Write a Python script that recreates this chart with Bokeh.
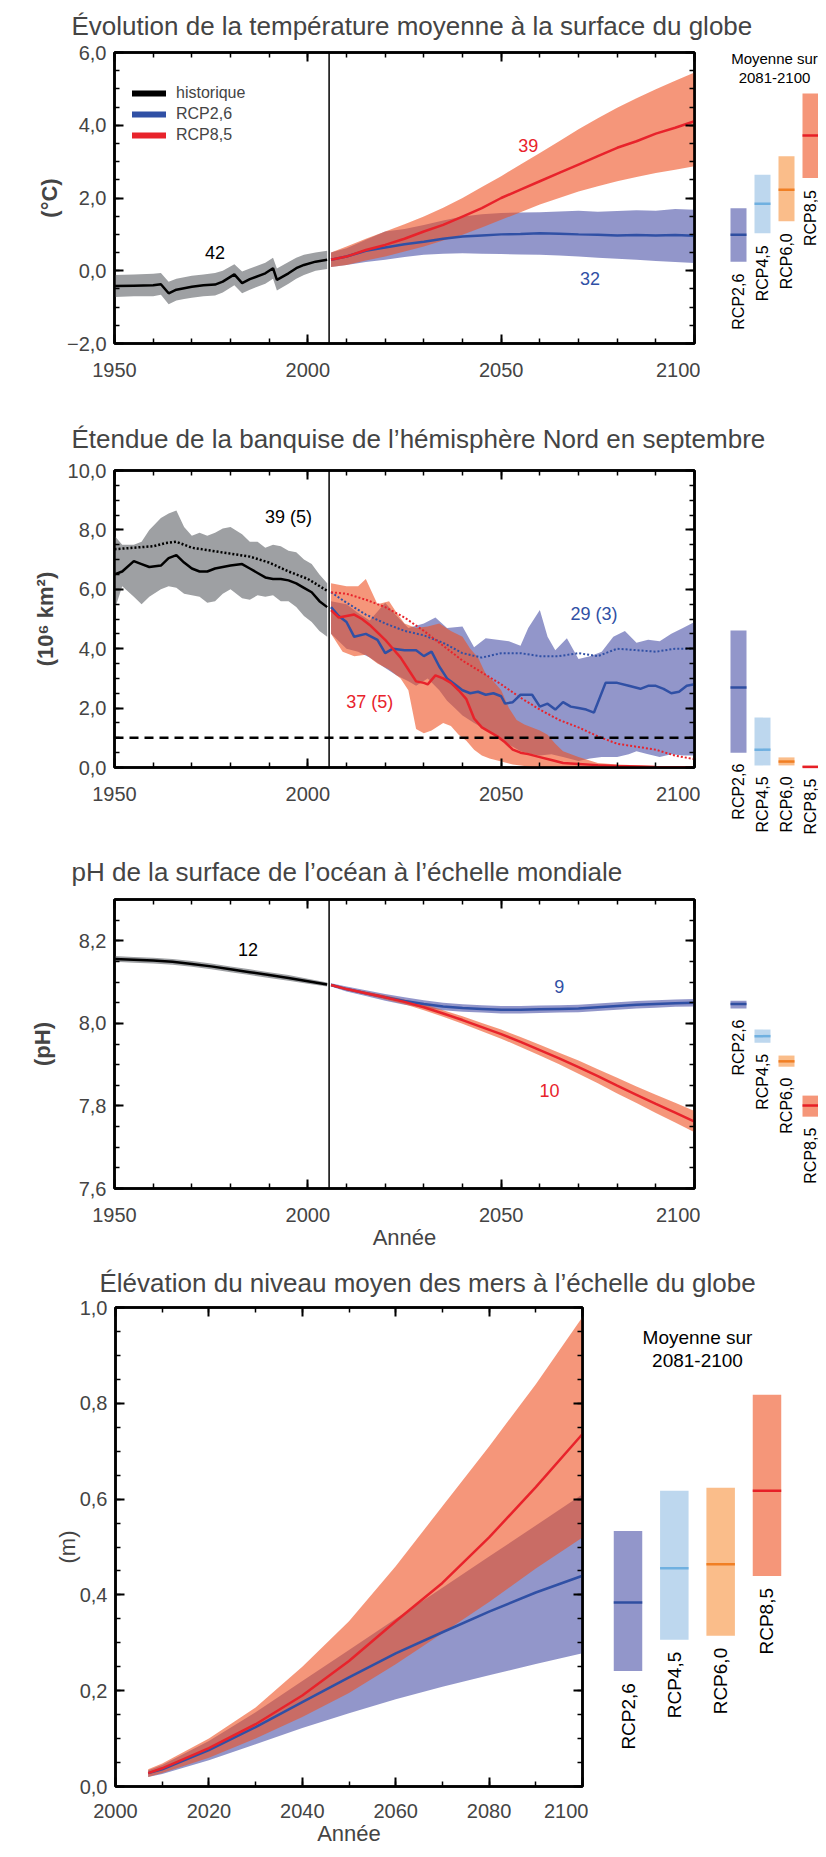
import math
from bokeh.plotting import figure
from bokeh.models import (Range1d, LinearAxis, FixedTicker, CustomJSTickFormatter,
                          Span, Legend, LegendItem, Spacer)
from bokeh.layouts import column, row
from bokeh.embed import file_html
from bokeh.resources import INLINE
from bokeh.core.properties import value

FONT = "'Liberation Sans', Arial, Helvetica, sans-serif"
NAN = float("nan")

# ============================ DATA ============================
titles = [
    "\u00c9volution de la temp\u00e9rature moyenne \u00e0 la surface du globe",
    "\u00c9tendue de la banquise de l\u2019h\u00e9misph\u00e8re Nord en septembre",
    "pH de la surface de l\u2019oc\u00e9an \u00e0 l\u2019\u00e9chelle mondiale",
    "\u00c9l\u00e9vation du niveau moyen des mers \u00e0 l\u2019\u00e9chelle du globe",
]
ylabels = ["(\u00b0C)", "(10\u2076 km\u00b2)", "(pH)", "(m)"]
xlabel = "Ann\u00e9e"
side_title = ["Moyenne sur", "2081-2100"]
scenarios = ["RCP2,6", "RCP4,5", "RCP6,0", "RCP8,5"]
legend_labels = ["historique", "RCP2,6", "RCP8,5"]
split_year = 2005.5

# --- Panel 1 : temperature ---
t_hist_years = [1950, 1955, 1960, 1962, 1964, 1966, 1968, 1970, 1973, 1976, 1978, 1981,
                1983, 1985, 1989, 1991, 1992, 1995, 1997, 1999, 2002, 2005]
t_hist_mean = [-0.42, -0.41, -0.40, -0.37, -0.62, -0.52, -0.48, -0.44, -0.40, -0.38, -0.30, -0.10,
               -0.34, -0.23, -0.07, 0.07, -0.25, -0.07, 0.07, 0.16, 0.25, 0.30]
t_hist_hi = [-0.12, -0.10, -0.08, -0.06, -0.30, -0.22, -0.18, -0.14, -0.10, -0.06, 0.00, 0.18,
             -0.02, 0.06, 0.22, 0.36, 0.06, 0.24, 0.36, 0.44, 0.50, 0.55]
t_hist_lo = [-0.72, -0.70, -0.70, -0.66, -0.92, -0.82, -0.78, -0.74, -0.70, -0.68, -0.60, -0.40,
             -0.62, -0.52, -0.36, -0.22, -0.54, -0.36, -0.22, -0.12, 0.00, 0.05]
t_proj_years = [2006, 2010, 2015, 2020, 2025, 2030, 2035, 2040, 2045, 2050,
                2055, 2060, 2065, 2070, 2075, 2080, 2085, 2090, 2095, 2100]
t26_mean = [0.30, 0.39, 0.55, 0.64, 0.73, 0.80, 0.88, 0.94, 0.97, 1.00,
            1.01, 1.03, 1.02, 1.00, 0.99, 0.97, 0.98, 0.97, 0.98, 0.96]
t26_hi = [0.50, 0.62, 0.85, 1.08, 1.15, 1.26, 1.38, 1.49, 1.55, 1.59,
          1.60, 1.61, 1.63, 1.65, 1.62, 1.64, 1.66, 1.65, 1.70, 1.68]
t26_lo = [0.10, 0.16, 0.24, 0.30, 0.38, 0.44, 0.47, 0.48, 0.47, 0.46,
          0.45, 0.44, 0.42, 0.39, 0.36, 0.33, 0.30, 0.27, 0.24, 0.21]
t85_mean = [0.30, 0.39, 0.57, 0.71, 0.88, 1.08, 1.26, 1.49, 1.72, 2.00,
            2.23, 2.46, 2.69, 2.92, 3.15, 3.38, 3.56, 3.77, 3.93, 4.11]
t85_hi = [0.50, 0.67, 0.88, 1.08, 1.28, 1.49, 1.73, 2.00, 2.30, 2.60,
          2.92, 3.24, 3.56, 3.89, 4.19, 4.48, 4.74, 4.99, 5.22, 5.45]
t85_lo = [0.10, 0.16, 0.28, 0.39, 0.53, 0.67, 0.83, 0.99, 1.19, 1.40,
          1.61, 1.82, 2.00, 2.18, 2.32, 2.46, 2.58, 2.69, 2.78, 2.87]
t_bar_lo = [0.25, 1.03, 1.36, 2.55]
t_bar_hi = [1.72, 2.64, 3.15, 4.87]
t_bar_mean = [0.99, 1.84, 2.23, 3.72]
t_ann_text = ["42", "39", "32"]
t_ann_x = [1976, 2057, 2073]
t_ann_y = [0.5, 3.45, -0.2]

# --- Panel 2 : sea ice ---
i_hist_years = [1950, 1952, 1955, 1957, 1959, 1962, 1964, 1966, 1968, 1970, 1972, 1974, 1976, 1978,
                1980, 1983, 1985, 1987, 1989, 1991, 1993, 1995, 1997, 1999, 2001, 2003, 2005]
i_hist_mean = [6.5, 6.6, 6.95, 6.85, 6.75, 6.8, 7.05, 7.15, 6.9, 6.7, 6.6, 6.6, 6.7, 6.75,
               6.8, 6.85, 6.7, 6.55, 6.4, 6.35, 6.35, 6.3, 6.2, 6.05, 5.9, 5.6, 5.4]
i_hist_hi = [7.8, 7.5, 7.5, 7.6, 8.0, 8.4, 8.55, 8.65, 8.1, 7.8, 7.9, 7.8, 7.9, 8.05,
             8.1, 7.85, 7.6, 7.6, 7.4, 7.5, 7.45, 7.3, 7.25, 7.0, 6.85, 6.5, 6.2]
i_hist_lo = [5.3, 6.1, 5.75, 5.5, 5.75, 6.0, 6.1, 6.05, 5.85, 5.8, 5.75, 5.55, 5.6, 5.85,
             6.0, 5.7, 5.65, 5.8, 5.75, 5.8, 5.6, 5.6, 5.4, 5.1, 4.9, 4.6, 4.4]
i_obs_years = [1950, 1955, 1960, 1963, 1966, 1970, 1975, 1980, 1985, 1990, 1995, 2000, 2005]
i_obs_dotted = [7.35, 7.4, 7.45, 7.55, 7.6, 7.4, 7.3, 7.2, 7.1, 6.9, 6.6, 6.35, 5.95]
i26_years = [2006, 2008, 2010, 2012, 2015, 2018, 2020, 2022, 2025, 2028, 2030, 2032, 2034, 2036,
             2038, 2040, 2042, 2044, 2046, 2048, 2050, 2051, 2053, 2055, 2058, 2060, 2062, 2064,
             2066, 2068, 2070, 2072, 2074, 2077, 2080, 2083, 2086, 2088, 2090, 2092, 2094, 2096,
             2098, 2100]
i26_mean = [5.4, 5.1, 4.9, 4.4, 4.5, 4.3, 3.85, 4.0, 3.95, 3.95, 3.75, 3.9, 3.4, 3.0,
            2.8, 2.6, 2.5, 2.55, 2.45, 2.5, 2.4, 2.15, 2.2, 2.45, 2.45, 2.05, 2.15, 1.95,
            2.2, 2.05, 2.0, 1.95, 1.85, 2.85, 2.85, 2.75, 2.65, 2.75, 2.75, 2.65, 2.5, 2.55,
            2.75, 2.8]
i_dot_years = [2006, 2010, 2015, 2020, 2025, 2030, 2035, 2040, 2045, 2050,
               2055, 2060, 2065, 2070, 2075, 2080, 2085, 2090, 2095, 2100]
i26_dotted = [5.9, 5.55, 5.15, 4.85, 4.6, 4.45, 4.2, 3.85, 3.7, 3.85,
              3.85, 3.75, 3.75, 3.85, 3.75, 4.0, 3.95, 3.9, 4.0, 4.0]
i85_dotted = [5.9, 5.85, 5.65, 5.4, 5.05, 4.6, 4.1, 3.6, 3.2, 2.8,
              2.35, 1.95, 1.6, 1.35, 1.05, 0.8, 0.7, 0.6, 0.4, 0.28]
i26_hi_years = [2006, 2010, 2013, 2016, 2020, 2023, 2026, 2030, 2033, 2036, 2040, 2043, 2046, 2049,
                2052, 2055, 2057, 2060, 2062, 2064, 2067, 2070, 2073, 2076, 2079, 2082, 2085, 2088,
                2091, 2094, 2097, 2100]
i26_hi = [5.6, 5.5, 5.2, 4.95, 5.55, 5.1, 4.7, 4.85, 5.05, 4.7, 4.75, 4.05, 4.35, 4.3,
          4.25, 4.1, 4.7, 5.3, 4.4, 3.95, 4.35, 3.65, 3.75, 3.9, 4.4, 4.6, 4.2, 4.3,
          4.25, 4.5, 4.7, 4.9]
i26_lo_years = [2006, 2010, 2013, 2016, 2020, 2023, 2026, 2028, 2031, 2034, 2036, 2038, 2040, 2043,
                2045, 2048, 2050, 2053, 2055, 2058, 2060, 2063, 2066, 2070, 2073, 2076, 2080, 2083,
                2085, 2088, 2091, 2094, 2097, 2100]
i26_lo = [4.5, 4.0, 3.9, 3.7, 3.35, 3.1, 2.9, 2.75, 3.0, 2.6, 2.25, 2.0, 1.75, 1.5,
          1.35, 1.1, 0.9, 0.7, 0.55, 0.45, 0.4, 0.45, 0.35, 0.22, 0.3, 0.35, 0.35, 0.45,
          0.55, 0.45, 0.35, 0.45, 0.4, 0.4]
i85_years = [2006, 2008, 2010, 2012, 2014, 2016, 2018, 2020, 2022, 2024, 2026, 2028, 2030, 2031,
             2033, 2035, 2037, 2039, 2041, 2043, 2045, 2047, 2049, 2051, 2053, 2055, 2057, 2060,
             2063, 2066, 2070, 2075, 2080, 2090, 2100]
i85_mean = [5.3, 5.05, 5.1, 5.15, 5.0, 4.8, 4.55, 4.3, 4.0, 3.7, 3.3, 2.9, 2.85, 2.8,
            3.1, 3.0, 2.85, 2.6, 2.3, 1.65, 1.35, 1.2, 1.05, 0.85, 0.6, 0.5, 0.45, 0.35,
            0.25, 0.15, 0.12, 0.08, 0.05, 0.02, 0.01]
i85_hi_years = [2006, 2010, 2013, 2015, 2018, 2021, 2023, 2025, 2028, 2031, 2034, 2037, 2040, 2042,
                2044, 2046, 2048, 2050, 2052, 2054, 2056, 2058, 2060, 2062, 2064, 2066, 2070, 2075,
                2080, 2090, 2100]
i85_hi = [6.2, 6.1, 6.1, 6.35, 5.5, 5.6, 5.2, 4.85, 4.7, 4.75, 4.85, 4.6, 4.4, 4.0,
          3.7, 3.15, 2.9, 2.6, 2.0, 1.6, 1.45, 1.35, 1.25, 1.1, 0.8, 0.55, 0.35, 0.15,
          0.1, 0.05, 0.03]
i85_lo_years = [2006, 2009, 2012, 2015, 2018, 2021, 2024, 2026, 2028, 2030, 2032, 2035, 2037, 2039,
                2041, 2043, 2045, 2047, 2050, 2053, 2056, 2060, 2100]
i85_lo = [4.5, 3.9, 3.75, 3.8, 3.5, 3.3, 3.0, 2.6, 1.3, 1.15, 1.25, 1.5, 1.4, 1.1,
          0.9, 0.6, 0.4, 0.3, 0.2, 0.1, 0.05, 0.0, 0.0]
ice_free_level = 1.0
i_bar_lo = [0.50, 0.07, 0.07, 0.00]
i_bar_hi = [4.61, 1.68, 0.34, 0.06]
i_bar_mean = [2.69, 0.60, 0.20, 0.02]
i_ann_text = ["39 (5)", "29 (3)", "37 (5)"]
i_ann_x = [1995, 2074, 2016]
i_ann_y = [8.45, 5.17, 2.2]

# --- Panel 3 : ocean pH ---
ph_hist_years = [1950, 1955, 1960, 1965, 1970, 1975, 1980, 1985, 1990, 1995, 2000, 2005]
ph_hist = [8.156, 8.154, 8.152, 8.149, 8.144, 8.138, 8.131, 8.124, 8.117, 8.110, 8.102, 8.094]
ph_hist_hi = [8.163, 8.161, 8.159, 8.156, 8.151, 8.145, 8.138, 8.131, 8.124, 8.117, 8.108, 8.099]
ph_hist_lo = [8.149, 8.147, 8.145, 8.142, 8.137, 8.131, 8.124, 8.117, 8.110, 8.103, 8.096, 8.089]
ph_years = [2006, 2010, 2015, 2020, 2025, 2030, 2035, 2040, 2045, 2050,
            2055, 2060, 2065, 2070, 2075, 2080, 2085, 2090, 2095, 2100]
ph26 = [8.093, 8.083, 8.073, 8.063, 8.054, 8.047, 8.041, 8.037, 8.035, 8.033,
        8.033, 8.034, 8.035, 8.036, 8.039, 8.042, 8.045, 8.047, 8.049, 8.050]
ph26_hi = [8.097, 8.089, 8.080, 8.071, 8.063, 8.056, 8.050, 8.046, 8.044, 8.042,
           8.042, 8.043, 8.044, 8.045, 8.048, 8.051, 8.054, 8.056, 8.058, 8.059]
ph26_lo = [8.089, 8.077, 8.066, 8.055, 8.045, 8.038, 8.032, 8.028, 8.026, 8.024,
           8.024, 8.025, 8.026, 8.027, 8.030, 8.033, 8.036, 8.038, 8.040, 8.041]
ph85 = [8.093, 8.083, 8.073, 8.063, 8.052, 8.039, 8.024, 8.008, 7.991, 7.974,
        7.955, 7.935, 7.915, 7.894, 7.872, 7.849, 7.827, 7.805, 7.784, 7.762]
ph85_hi = [8.096, 8.086, 8.077, 8.068, 8.058, 8.046, 8.032, 8.017, 8.001, 7.985,
           7.967, 7.948, 7.929, 7.910, 7.889, 7.868, 7.847, 7.827, 7.808, 7.788]
ph85_lo = [8.090, 8.080, 8.069, 8.058, 8.046, 8.032, 8.016, 7.999, 7.981, 7.963,
           7.943, 7.922, 7.901, 7.878, 7.855, 7.830, 7.807, 7.783, 7.760, 7.736]
ph_bar_lo = [8.036, 7.953, 7.895, 7.774]
ph_bar_hi = [8.055, 7.985, 7.922, 7.825]
ph_bar_mean = [8.047, 7.969, 7.908, 7.801]
ph_ann_text = ["12", "9", "10"]
ph_ann_x = [1984.5, 2065, 2062.5]
ph_ann_y = [8.18, 8.09, 7.837]

# --- Panel 4 : sea level ---
sl_years = [2007, 2010, 2020, 2030, 2040, 2050, 2060, 2070, 2080, 2090, 2100]
sl26 = [0.028, 0.036, 0.076, 0.124, 0.176, 0.228, 0.278, 0.322, 0.365, 0.405, 0.440]
sl26_hi = [0.034, 0.045, 0.095, 0.155, 0.220, 0.285, 0.350, 0.415, 0.480, 0.545, 0.610]
sl26_lo = [0.020, 0.026, 0.055, 0.088, 0.122, 0.153, 0.182, 0.208, 0.232, 0.256, 0.278]
sl85 = [0.028, 0.038, 0.080, 0.130, 0.190, 0.262, 0.345, 0.425, 0.520, 0.625, 0.736]
sl85_hi = [0.036, 0.048, 0.100, 0.165, 0.250, 0.345, 0.460, 0.585, 0.710, 0.840, 0.980]
sl85_lo = [0.020, 0.028, 0.060, 0.100, 0.145, 0.195, 0.255, 0.320, 0.385, 0.455, 0.520]
sl_bar_lo = [0.258, 0.322, 0.330, 0.452]
sl_bar_hi = [0.544, 0.626, 0.632, 0.822]
sl_bar_mean = [0.398, 0.468, 0.476, 0.626]

# ============================ STYLE ============================
C_HIST = "black"
C_GRAY = "#9ea0a3"
C26 = "#3050a5"
C85 = "#e8232b"
C26_BAND = "#4950a7"
C85_BAND = "#ee5021"
BAND_ALPHA = 0.6
bar_fill = ["#9296ca", "#bdd7ee", "#fabd8a", "#f59679"]
bar_mean_color = ["#2f4ea0", "#6fb0e0", "#f07f24", "#e61f27"]

YFMT = "return (tick < 0 ? '\u2212' : '') + Math.abs(tick).toFixed(1).replace('.', ',');"


def style_axis(ax, size="20px"):
    ax.axis_line_width = 2.5
    ax.major_tick_in = 9
    ax.major_tick_out = 0
    ax.minor_tick_in = 5
    ax.minor_tick_out = 0
    ax.major_tick_line_width = 2
    ax.minor_tick_line_width = 1.5
    ax.major_label_text_font = FONT
    ax.major_label_text_font_size = size
    ax.axis_label_text_font = FONT
    ax.axis_label_text_font_style = "normal"


def main_fig(left, fw, right, top, fh, bottom, xr, yr, xt, xm, yt, ym, ylab, ylab_standoff,
             ylab_style="bold", xlab=None):
    p = figure(width=left + fw + right, height=top + fh + bottom,
               x_range=Range1d(*xr), y_range=Range1d(*yr),
               output_backend="svg", toolbar_location=None, frame_align=False,
               min_border_left=left, min_border_right=right,
               min_border_top=top, min_border_bottom=bottom)
    p.grid.visible = False
    p.outline_line_color = "black"
    p.outline_line_width = 2.5
    p.xaxis.ticker = FixedTicker(ticks=xt, minor_ticks=xm)
    p.yaxis.ticker = FixedTicker(ticks=yt, minor_ticks=ym)
    p.yaxis.formatter = CustomJSTickFormatter(code=YFMT)
    ax_top = LinearAxis(ticker=FixedTicker(ticks=xt, minor_ticks=xm))
    ax_right = LinearAxis(ticker=FixedTicker(ticks=yt, minor_ticks=ym))
    p.add_layout(ax_top, "above")
    p.add_layout(ax_right, "right")
    for ax in [p.below[0], p.left[0], ax_top, ax_right]:
        style_axis(ax)
    for ax in [ax_top, ax_right]:
        ax.major_label_text_font_size = "0px"
        ax.major_label_text_color = None
        ax.major_label_standoff = 0
    p.below[0].major_label_standoff = 19
    p.left[0].major_label_standoff = 8
    p.left[0].axis_label = ylab
    p.left[0].axis_label_text_font_size = "22px"
    p.left[0].axis_label_text_font_style = ylab_style
    p.left[0].axis_label_standoff = ylab_standoff
    if xlab:
        p.below[0].axis_label = xlab
        p.below[0].axis_label_text_font_size = "22px"
        p.below[0].axis_label_standoff = 0
    return p


def band(p, xs_hi, hi, xs_lo, lo, color, alpha):
    p.patch(x=list(xs_hi) + list(reversed(xs_lo)), y=list(hi) + list(reversed(lo)),
            fill_color=color, fill_alpha=alpha, line_color=None)


def annotate(p, xs, ys, texts, colors):
    p.text(x=xs, y=ys, text=texts, text_color=colors, text_font=value(FONT),
           text_font_size="18px", text_align="center", text_baseline="middle")


def side_fig(width, height, yr, first_center, unit, bar_w, lo, hi, mean, lab_size, gap,
             head=None, head_size="15px", head_offsets=(0, 0)):
    s = figure(width=width, height=height,
               x_range=Range1d(-first_center / unit, (width - first_center) / unit),
               y_range=Range1d(*yr), output_backend="svg", toolbar_location=None,
               frame_align=False, min_border=0, x_axis_location=None, y_axis_location=None)
    s.grid.visible = False
    s.outline_line_color = None
    idx = list(range(len(scenarios)))
    s.vbar(x=idx, bottom=lo, top=hi, width=bar_w / unit, fill_color=bar_fill, line_color=None)
    s.rect(x=idx, y=mean, width=bar_w / unit, height=2.5, height_units="screen",
           fill_color=bar_mean_color, line_color=None)
    s.text(x=idx, y=lo, text=scenarios, angle=math.pi / 2, text_align="right",
           text_baseline="middle", y_offset=gap, text_font=value(FONT),
           text_font_size=lab_size, text_color="black")
    if head:
        for txt, off in zip(head, head_offsets):
            s.text(x=[1.5], y=[yr[1]], text=[txt], y_offset=off, text_align="center",
                   text_baseline="middle", text_font=value(FONT), text_font_size=head_size,
                   text_color="black")
    return s


def title_fig(text, height, offset, size="26px"):
    t = figure(width=818, height=height, x_range=Range1d(0, 1), y_range=Range1d(0, 1),
               output_backend="svg", toolbar_location=None, frame_align=False, min_border=0,
               x_axis_location=None, y_axis_location=None, title=text)
    t.grid.visible = False
    t.outline_line_color = None
    t.title.text_font = FONT
    t.title.text_font_size = size
    t.title.text_font_style = "normal"
    t.title.offset = offset
    t.title.standoff = 0
    return t


def side_range(yr, top, fh, bottom):
    scale = fh / (yr[1] - yr[0])
    return (yr[0] - bottom / scale, yr[1] + top / scale)


# ============================ LAYOUT ============================
PAGE_W = 818
LEFT, FW, RIGHT = 114, 580, 6
SIDE_W = PAGE_W - (LEFT + FW + RIGHT)
years_major = [1950, 2000, 2050, 2100]
years_minor = list(range(1950, 2101, 10))

# ---- Panel 1
yr1 = (-2, 6)
top1, fh1, bot1 = 12, 291, 78
p1 = main_fig(LEFT, FW, RIGHT, top1, fh1, bot1, (1950, 2100), yr1, years_major, years_minor,
              [-2, 0, 2, 4, 6], [-2 + 0.5 * k for k in range(17)], ylabels[0], 2)
band(p1, t_hist_years, t_hist_hi, t_hist_years, t_hist_lo, C_GRAY, 1.0)
band(p1, t_proj_years, t26_hi, t_proj_years, t26_lo, C26_BAND, BAND_ALPHA)
band(p1, t_proj_years, t85_hi, t_proj_years, t85_lo, C85_BAND, BAND_ALPHA)
p1.line(t_hist_years, t_hist_mean, line_color=C_HIST, line_width=2.5)
p1.line(t_proj_years, t26_mean, line_color=C26, line_width=2.5)
p1.line(t_proj_years, t85_mean, line_color=C85, line_width=2.5)
p1.add_layout(Span(location=split_year, dimension="height", line_color="black", line_width=1.5))
annotate(p1, t_ann_x, t_ann_y, t_ann_text, ["black", C85, C26])
leg_r = [p1.line([NAN, NAN], [NAN, NAN], line_color=c, line_width=6, line_cap="round")
         for c in [C_HIST, C26, C85]]
leg = Legend(items=[LegendItem(label=l, renderers=[r]) for l, r in zip(legend_labels, leg_r)],
             location=(18, fh1 - 92), margin=0, padding=0, spacing=3,
             glyph_width=34, glyph_height=18, label_height=18, label_standoff=10,
             border_line_color=None, background_fill_alpha=0,
             label_text_font=FONT, label_text_font_size="16px")
p1.add_layout(leg)
s1 = side_fig(SIDE_W, top1 + fh1 + bot1, side_range(yr1, top1, fh1, bot1), 38, 24, 16,
              t_bar_lo, t_bar_hi, t_bar_mean, "16px", 12, head=side_title, head_size="15px",
              head_offsets=(18, 37))

# ---- Panel 2
yr2 = (0, 10)
top2, fh2, bot2 = 17, 297, 87
p2 = main_fig(LEFT, FW, RIGHT, top2, fh2, bot2, (1950, 2100), yr2, years_major, years_minor,
              [0, 2, 4, 6, 8, 10], [0.5 * k for k in range(21)], ylabels[1], 7)
band(p2, i_hist_years, i_hist_hi, i_hist_years, i_hist_lo, C_GRAY, 1.0)
band(p2, i26_hi_years, i26_hi, i26_lo_years, i26_lo, C26_BAND, BAND_ALPHA)
band(p2, i85_hi_years, i85_hi, i85_lo_years, i85_lo, C85_BAND, BAND_ALPHA)
p2.line(i_obs_years, i_obs_dotted, line_color=C_HIST, line_width=2.5, line_dash="2 2")
p2.line(i_dot_years, i26_dotted, line_color=C26, line_width=2, line_dash="2 2")
p2.line(i_dot_years, i85_dotted, line_color=C85, line_width=2, line_dash="2 2")
p2.line(i_hist_years, i_hist_mean, line_color=C_HIST, line_width=2.5)
p2.line(i26_years, i26_mean, line_color=C26, line_width=2.5)
p2.line(i85_years, i85_mean, line_color=C85, line_width=2.5)
p2.add_layout(Span(location=split_year, dimension="height", line_color="black", line_width=1.5))
p2.add_layout(Span(location=ice_free_level, dimension="width", line_color="black",
                   line_width=2.5, line_dash="9 6"))
annotate(p2, i_ann_x, i_ann_y, i_ann_text, ["black", C26, C85])
s2 = side_fig(SIDE_W, top2 + fh2 + bot2, side_range(yr2, top2, fh2, bot2), 38, 24, 16,
              i_bar_lo, i_bar_hi, i_bar_mean, "16px", 11)

# ---- Panel 3
yr3 = (7.6, 8.3)
top3, fh3, bot3 = 13, 289, 77
p3 = main_fig(LEFT, FW, RIGHT, top3, fh3, bot3, (1950, 2100), yr3, years_major, years_minor,
              [7.6, 7.8, 8.0, 8.2], [round(7.6 + 0.05 * k, 2) for k in range(15)],
              ylabels[2], 21, xlab=xlabel)
band(p3, ph_hist_years, ph_hist_hi, ph_hist_years, ph_hist_lo, C_GRAY, 1.0)
band(p3, ph_years, ph26_hi, ph_years, ph26_lo, C26_BAND, BAND_ALPHA)
band(p3, ph_years, ph85_hi, ph_years, ph85_lo, C85_BAND, BAND_ALPHA)
p3.line(ph_hist_years, ph_hist, line_color=C_HIST, line_width=2.5)
p3.line(ph_years, ph26, line_color=C26, line_width=2.5)
p3.line(ph_years, ph85, line_color=C85, line_width=2.5)
p3.add_layout(Span(location=split_year, dimension="height", line_color="black", line_width=1.5))
annotate(p3, ph_ann_x, ph_ann_y, ph_ann_text, ["black", C26, C85])
s3 = side_fig(SIDE_W, top3 + fh3 + bot3, side_range(yr3, top3, fh3, bot3), 38, 24, 16,
              ph_bar_lo, ph_bar_hi, ph_bar_mean, "16px", 11)

# ---- Panel 4
LEFT4, FW4, RIGHT4 = 115, 467, 6
SIDE_W4 = PAGE_W - (LEFT4 + FW4 + RIGHT4)
yr4 = (0, 1)
top4, fh4, bot4 = 10, 490, 51
p4 = main_fig(LEFT4, FW4, RIGHT4, top4, fh4, bot4, (2000, 2100), yr4,
              list(range(2000, 2101, 20)), list(range(2000, 2101, 10)),
              [0, 0.2, 0.4, 0.6, 0.8, 1.0], [round(0.05 * k, 2) for k in range(21)],
              ylabels[3], -3, ylab_style="normal", xlab=xlabel)
p4.below[0].major_label_standoff = 17
band(p4, sl_years, sl26_hi, sl_years, sl26_lo, C26_BAND, BAND_ALPHA)
band(p4, sl_years, sl85_hi, sl_years, sl85_lo, C85_BAND, BAND_ALPHA)
p4.line(sl_years, sl26, line_color=C26, line_width=2.5)
p4.line(sl_years, sl85, line_color=C85, line_width=2.5)
s4 = side_fig(SIDE_W4, top4 + fh4 + bot4, side_range(yr4, top4, fh4, bot4), 39.5, 46.33, 28.5,
              sl_bar_lo, sl_bar_hi, sl_bar_mean, "19px", 12, head=side_title,
              head_size="19px", head_offsets=(40, 63))

t1 = title_fig(titles[0], 32, 71)
t2 = title_fig(titles[1], 32, 71)
t3 = title_fig(titles[2], 32, 71)
t4 = title_fig(titles[3], 32, 99)

layout = column(Spacer(width=PAGE_W, height=8), t1, row(p1, s1), t2, row(p2, s2),
                t3, row(p3, s3), t4, row(p4, s4))

open("out.html", "w").write(file_html(layout, INLINE))
